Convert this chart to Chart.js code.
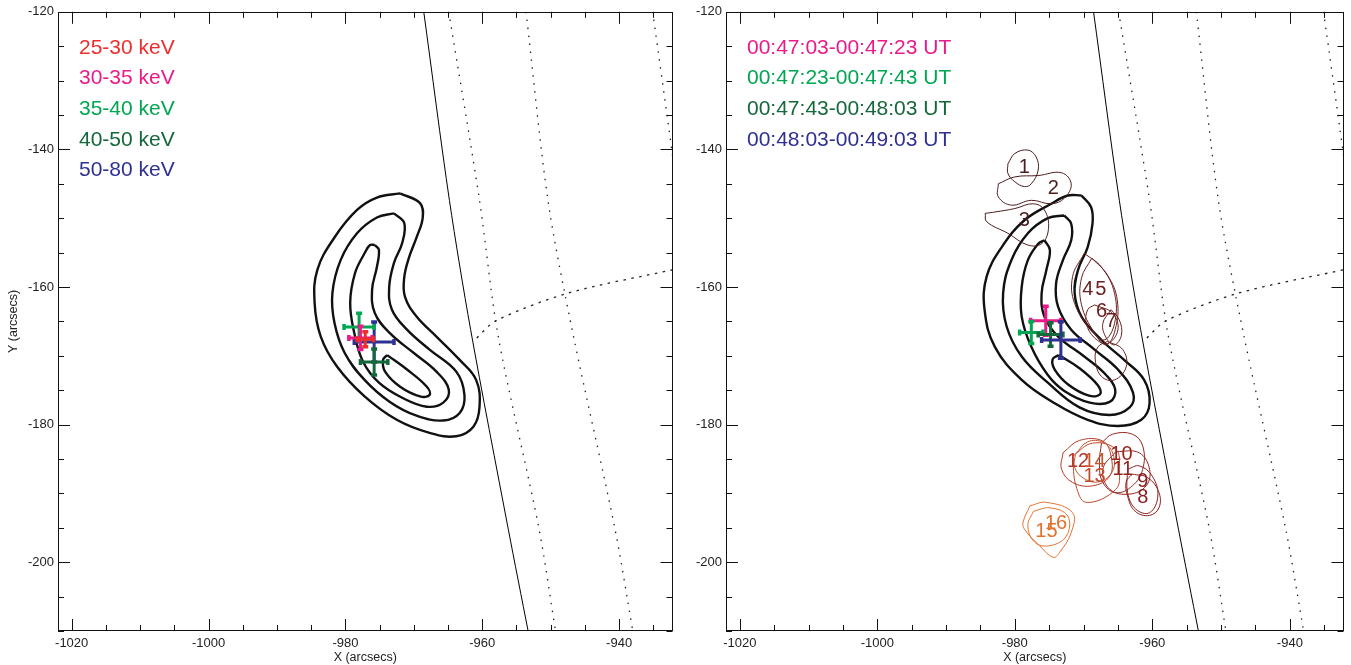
<!DOCTYPE html>
<html>
<head>
<meta charset="utf-8">
<script src="https://cdn.jsdelivr.net/npm/chart.js@4.4.1/dist/chart.umd.min.js"></script>
<style>
  html, body { margin: 0; padding: 0; background: #fff; }
  #wrap { position: relative; width: 1351px; height: 665px; }
  #leftBox { position: absolute; left: 0; top: 0; }
  #rightBox { position: absolute; left: 680px; top: 0; }
</style>
</head>
<body>
<div id="wrap">
  <div id="leftBox"><canvas id="leftChart" width="680" height="665"></canvas></div>
  <div id="rightBox"><canvas id="rightChart" width="671" height="665"></canvas></div>
</div>
<script>
// axes
const xTicks = [-1020, -1000, -980, -960, -940];
const yTicks = [-200, -180, -160, -140, -120];
const xMin = -1022, xMax = -932.2;
const yMin = -210, yMax = -120;

// solar limb (solid) and heliographic grid (dotted)
const limb = [[-968.55, -120], [-964.8, -147.4], [-961.7, -166.2], [-956.2, -195.2], [-953.3, -210]];
const lon1 = [[-964.9, -120], [-960.4, -147.4], [-957.7, -167.0], [-951.7, -195.2], [-949.3, -210]];
const lon2 = [[-953.6, -120], [-950.4, -147.4], [-946.7, -167.0], [-940.6, -195.2], [-938.0, -210]];
const lon3 = [[-935.1, -120], [-932.3, -140.1], [-931.0, -150]];
const lat1 = [[-960.8, -167.4], [-958.0, -164.9], [-947.5, -160.9], [-932.2, -157.5]];

// left panel contours (outer -> inner)
const leftC1 = [[-972.0,-146.4],[-969.1,-147.8],[-968.7,-149.9],[-969.6,-152.8],[-970.7,-155.7],[-971.4,-158.6],[-971.3,-161.4],[-969.6,-164.3],[-966.7,-167.2],[-963.3,-170.6],[-960.9,-173.5],[-960.4,-177.4],[-961.3,-180.3],[-963.8,-181.7],[-967.7,-181.2],[-972.5,-179.3],[-977.2,-175.9],[-981.2,-171.6],[-983.6,-167.2],[-984.5,-162.3],[-984.1,-157.5],[-981.6,-152.8],[-978.3,-148.8],[-975.4,-147.0]];
const leftC2 = [[-972.9,-149.3],[-971.4,-150.7],[-971.7,-153.6],[-972.9,-156.5],[-973.6,-160.0],[-973.2,-163.3],[-971.0,-166.2],[-967.7,-169.1],[-963.8,-172.3],[-962.6,-175.7],[-963.3,-178.3],[-965.7,-179.4],[-969.6,-178.7],[-973.5,-176.7],[-977.2,-173.5],[-980.1,-169.6],[-981.6,-165.2],[-981.9,-160.9],[-980.7,-156.1],[-978.3,-152.2],[-975.4,-149.9]];
const leftC3 = [[-975.7,-153.9],[-975.1,-154.6],[-975.4,-157.1],[-976.1,-160.4],[-975.7,-163.8],[-973.5,-166.7],[-970.0,-169.6],[-966.7,-172.3],[-964.9,-174.9],[-965.7,-176.8],[-968.1,-177.4],[-971.7,-176.1],[-975.1,-173.9],[-977.4,-170.9],[-978.7,-166.7],[-979.3,-162.3],[-978.6,-158.0],[-977.2,-155.1],[-976.4,-153.9]];
const leftC4 = [[-973.9,-169.9],[-971.0,-172.0],[-968.1,-174.5],[-967.7,-175.7],[-969.1,-175.9],[-972.0,-174.5],[-974.2,-172.3],[-974.5,-170.6]];

// right panel contours (outer -> inner)
const rightC1 = [[-970.3,-146.7],[-968.9,-148.4],[-968.7,-150.8],[-969.4,-154.2],[-970.8,-157.5],[-971.3,-160.9],[-970.3,-164.3],[-967.4,-167.7],[-964.1,-170.6],[-961.2,-173.5],[-960.4,-176.9],[-961.6,-179.3],[-965.0,-180.2],[-969.4,-179.3],[-974.2,-176.9],[-979.0,-173.5],[-982.9,-168.7],[-984.4,-163.3],[-984.1,-158.5],[-981.9,-154.2],[-978.6,-150.3],[-974.7,-147.9],[-972.3,-146.7]];
const rightC2 = [[-972.8,-149.6],[-971.8,-150.8],[-971.8,-153.2],[-973.0,-156.1],[-974.0,-159.5],[-973.7,-162.9],[-971.8,-166.2],[-968.4,-169.1],[-965.0,-172.0],[-962.8,-175.4],[-963.3,-177.5],[-966.2,-178.6],[-970.6,-177.5],[-975.2,-173.9],[-979.0,-170.1],[-981.2,-165.7],[-981.7,-160.9],[-980.5,-156.1],[-978.1,-152.2],[-975.2,-150.0]];
const rightC3 = [[-975.7,-153.2],[-974.9,-154.6],[-975.4,-157.5],[-976.1,-160.9],[-975.7,-164.3],[-973.7,-167.2],[-969.9,-170.1],[-967.0,-172.5],[-965.4,-174.9],[-966.2,-176.7],[-969.1,-176.8],[-972.8,-175.1],[-975.2,-172.8],[-977.6,-168.7],[-979.0,-164.3],[-979.0,-160.0],[-978.1,-156.1],[-976.6,-153.7]];
const rightC4 = [[-973.6,-169.9],[-970.6,-171.8],[-967.9,-174.3],[-967.6,-175.6],[-969.2,-175.8],[-972.2,-174.2],[-974.2,-172.0],[-974.5,-170.5]];

// left panel: centroids per energy band
const bandLabels = ['25-30 keV', '30-35 keV', '35-40 keV', '40-50 keV', '50-80 keV'];
const bandColors = ['#ee2d2d', '#ea1a8a', '#00a651', '#15683a', '#2e3192'];
const bandX = [-977.1, -977.8, -978.0, -975.8, -975.8];
const bandY = [-167.6, -167.4, -165.8, -170.9, -168.0];
const bandXErr = [1.2, 1.7, 2.2, 2.0, 2.9];
const bandYErr = [1.1, 1.7, 2.0, 1.9, 2.9];

// right panel: centroids per time interval
const timeLabels = ['00:47:03-00:47:23 UT', '00:47:23-00:47:43 UT', '00:47:43-00:48:03 UT', '00:48:03-00:49:03 UT'];
const timeColors = ['#ea1a8a', '#00a651', '#15683a', '#2e3192'];
const timeX = [-975.5, -977.6, -974.8, -973.3];
const timeY = [-164.9, -166.6, -166.9, -167.7];
const timeXErr = [2.2, 1.7, 1.8, 2.8];
const timeYErr = [2.1, 1.6, 1.7, 2.65];

// numbered sources (right panel)
const src1 = [[-981.0,-142.1],[-980.0,-140.6],[-978.1,-140.1],[-976.9,-141.1],[-976.6,-143.0],[-977.6,-145.0],[-978.6,-145.4],[-980.0,-144.7],[-981.0,-143.5]];
const src2 = [[-982.4,-145.0],[-980.0,-144.0],[-976.6,-143.8],[-973.2,-143.4],[-971.8,-145.0],[-972.8,-147.1],[-974.7,-147.9],[-977.6,-147.4],[-980.5,-148.1],[-982.4,-146.9]];
const src3 = [[-984.3,-149.3],[-984.1,-150.5],[-981.0,-152.2],[-978.1,-153.9],[-976.1,-153.7],[-975.1,-151.5],[-975.7,-148.8],[-977.3,-147.9],[-980.0,-148.6],[-982.9,-149.1]];
const src4 = [[-969.9,-155.1],[-967.4,-157.1],[-965.5,-160.9],[-965.5,-165.3],[-967.0,-167.7],[-968.9,-166.2],[-971.3,-162.4],[-971.6,-158.5]];
const src5 = [[-968.8,-155.8],[-966.5,-158.3],[-965.1,-161.9],[-965.4,-166.2],[-966.7,-168.4],[-968.4,-166.7],[-970.3,-162.6],[-970.3,-158.7]];
const src6 = [[-968.4,-162.6],[-965.8,-163.8],[-965.0,-166.2],[-966.5,-168.2],[-968.4,-167.4],[-969.6,-165.3],[-969.4,-163.3]];
const src7 = [[-966.0,-163.3],[-964.8,-164.8],[-964.5,-167.0],[-965.5,-168.4],[-966.7,-167.4],[-967.2,-165.3]];
const src7b = [[-966.5,-167.9],[-964.3,-169.1],[-963.8,-171.6],[-965.5,-173.5],[-967.4,-173.0],[-968.3,-170.6],[-967.9,-168.7]];
const src8 = [[-962.9,-187.2],[-960.7,-187.7],[-959.1,-189.7],[-959.0,-192.0],[-960.4,-193.2],[-962.5,-192.6],[-963.6,-190.4],[-963.8,-188.3]];
const src9 = [[-963.6,-186.5],[-961.9,-186.0],[-960.0,-187.5],[-959.2,-190.4],[-960.4,-192.8],[-962.4,-192.3],[-963.6,-189.9]];
const src10 = [[-967.4,-182.7],[-965.8,-181.4],[-962.9,-181.4],[-961.4,-183.1],[-961.4,-186.5],[-962.9,-188.9],[-965.3,-189.9],[-967.2,-188.4],[-967.7,-185.6]];
const src11 = [[-965.3,-183.9],[-961.9,-184.1],[-960.4,-186.5],[-960.9,-188.9],[-963.3,-190.1],[-966.2,-189.4],[-967.2,-186.5]];
const src12 = [[-973.0,-184.1],[-970.6,-182.3],[-967.2,-182.4],[-966.0,-184.6],[-966.2,-187.5],[-968.7,-188.9],[-971.6,-188.4],[-973.2,-186.5]];
const src13 = [[-971.6,-184.6],[-968.7,-182.7],[-965.3,-183.6],[-964.8,-186.5],[-965.3,-189.4],[-969.6,-191.3],[-971.1,-188.9]];
const src14 = [[-971.2,-184.3],[-969.4,-182.5],[-967.1,-182.6],[-965.7,-184.3],[-965.8,-186.8],[-967.7,-188.3],[-970.0,-187.8],[-971.3,-186.2]];
const src15 = [[-977.8,-191.8],[-975.4,-191.3],[-971.6,-192.8],[-971.8,-195.7],[-973.5,-198.6],[-974.4,-199.3],[-976.4,-197.6],[-978.6,-195.2],[-978.8,-194.2]];
const src16 = [[-977.3,-192.6],[-974.9,-192.1],[-972.3,-193.3],[-972.5,-196.2],[-974.9,-197.6],[-977.1,-197.1],[-978.1,-194.7]];

const srcShapes = [src1, src2, src3, src4, src5, src6, src7, src7b, src8, src9, src10, src11, src12, src13, src14, src15, src16];
const srcShapeColors = ['#4a1d1d', '#4a1d1d', '#4a1d1d', '#6a2020', '#6a2020', '#6a2020', '#6a2020', '#6a2020',
  '#8a1d1d', '#8a1d1d', '#962520', '#962520', '#b4382a', '#bf4a2c', '#c85530', '#e2722e', '#e2722e'];

const srcLabels = ['1', '2', '3', '4', '5', '6', '7', '8', '9', '10', '11', '12', '13', '14', '15', '16'];
const srcLabelX = [-978.6, -974.4, -978.6, -969.4, -967.5, -967.4, -966.0, -961.4, -961.4, -964.5, -964.3, -970.8, -968.4, -968.4, -975.4, -974.0];
const srcLabelY = [-142.6, -145.7, -150.3, -160.4, -160.4, -163.6, -165.0, -190.6, -188.2, -184.3, -186.5, -185.3, -187.5, -185.3, -195.5, -194.4];
const srcLabelColors = ['#4a1d1d', '#4a1d1d', '#4a1d1d', '#6a2020', '#6a2020', '#6a2020', '#6a2020', '#8a1d1d',
  '#8a1d1d', '#962520', '#962520', '#b4382a', '#bf4a2c', '#c85530', '#e2722e', '#e2722e'];

const FONT = "'Liberation Sans', Arial, Helvetica, sans-serif";

function toPts(arr) {
  return arr.map(p => ({ x: p[0], y: p[1] }));
}

function lineSet(arr, color, width, dash, tension, closed) {
  const src = closed ? arr.concat([arr[0]]) : arr;
  return {
    type: 'line',
    data: toPts(src),
    borderColor: color,
    borderWidth: width,
    borderDash: dash,
    pointRadius: 0,
    fill: false,
    tension: tension,
    showLine: true
  };
}

function crossSet(x, y, ex, ey, color) {
  return {
    type: 'line',
    data: [
      { x: x - ex, y: y }, { x: x + ex, y: y },
      { x: null, y: null },
      { x: x, y: y - ey }, { x: x, y: y + ey }
    ],
    borderColor: color,
    borderWidth: 3,
    pointStyle: 'line',
    pointRadius: 3,
    pointBorderColor: color,
    pointBorderWidth: 3.5,
    pointRotation: ctx => (ctx.dataIndex < 2 ? 90 : 0),
    spanGaps: false,
    tension: 0,
    showLine: true
  };
}

function mapLines() {
  return [
    lineSet(limb, '#000', 1, [], 0.3, false),
    lineSet(lon1, '#222', 1.3, [1.5, 6.5], 0.3, false),
    lineSet(lon2, '#222', 1.3, [1.5, 6.5], 0.3, false),
    lineSet(lon3, '#222', 1.3, [1.5, 6.5], 0.3, false),
    lineSet(lat1, '#222', 1.3, [2.5, 5.5], 0.3, false)
  ];
}

// first item in the list is drawn at the bottom
function stack(list) {
  list.forEach((d, i) => { d.order = list.length - i; });
  return list;
}

// inward ticks on all four sides plus the frame, IDL style
const frameTicks = {
  id: 'frameTicks',
  afterDraw(chart) {
    const { ctx, chartArea: a, scales: { x, y } } = chart;
    ctx.save();
    ctx.strokeStyle = '#111';
    ctx.lineWidth = 1;
    ctx.strokeRect(Math.round(a.left) + 0.5, Math.round(a.top) + 0.5,
      Math.round(a.right - a.left) - 1, Math.round(a.bottom - a.top) - 1);
    ctx.beginPath();
    for (let v = -1020; v <= xMax; v += 5) {
      const px = Math.round(x.getPixelForValue(v)) + 0.5;
      const len = v % 20 === 0 ? 12 : 6;
      ctx.moveTo(px, a.bottom); ctx.lineTo(px, a.bottom - len);
      ctx.moveTo(px, a.top); ctx.lineTo(px, a.top + len);
    }
    for (let v = yMin; v <= yMax; v += 5) {
      const py = Math.round(y.getPixelForValue(v)) + 0.5;
      const len = v % 20 === 0 ? 12 : 6;
      ctx.moveTo(a.left, py); ctx.lineTo(a.left + len, py);
      ctx.moveTo(a.right, py); ctx.lineTo(a.right - len, py);
    }
    ctx.stroke();
    ctx.restore();
  }
};

// coloured legend text in the upper left corner
function legendText(labels, colors) {
  return {
    id: 'legendText',
    afterDraw(chart) {
      const { ctx, chartArea: a } = chart;
      ctx.save();
      ctx.font = '21px ' + FONT;
      ctx.textAlign = 'left';
      ctx.textBaseline = 'middle';
      labels.forEach((t, i) => {
        ctx.fillStyle = colors[i];
        ctx.fillText(t, a.left + 21, a.top + 36 + i * 30.7);
      });
      ctx.restore();
    }
  };
}

const sourceLabels = {
  id: 'sourceLabels',
  afterDatasetsDraw(chart) {
    const { ctx, scales: { x, y } } = chart;
    ctx.save();
    ctx.font = '20px ' + FONT;
    ctx.textAlign = 'center';
    ctx.textBaseline = 'middle';
    srcLabels.forEach((t, i) => {
      ctx.fillStyle = srcLabelColors[i];
      ctx.fillText(t, x.getPixelForValue(srcLabelX[i]), y.getPixelForValue(srcLabelY[i]));
    });
    ctx.restore();
  }
};

function makeOptions(yWidth, padRight, showYTitle) {
  return {
    responsive: false,
    animation: false,
    events: [],
    layout: { padding: { top: 11, right: padRight, left: 0, bottom: 0 } },
    plugins: { legend: { display: false }, tooltip: { enabled: false } },
    scales: {
      x: {
        type: 'linear',
        min: xMin,
        max: xMax,
        afterBuildTicks: s => { s.ticks = xTicks.map(v => ({ value: v })); },
        afterFit: s => { s.height = 34; },
        grid: { display: false, drawTicks: false },
        border: { display: false },
        ticks: { color: '#222', padding: 5, maxRotation: 0, font: { family: FONT, size: 13 }, callback: v => String(v) },
        title: { display: true, text: 'X (arcsecs)', color: '#222', font: { family: FONT, size: 12.5 }, padding: { top: 0, bottom: 0 } }
      },
      y: {
        type: 'linear',
        min: yMin,
        max: yMax,
        afterBuildTicks: s => { s.ticks = yTicks.map(v => ({ value: v })); },
        afterFit: s => { s.width = yWidth; },
        grid: { display: false, drawTicks: false },
        border: { display: false },
        ticks: { color: '#222', padding: 4, font: { family: FONT, size: 13 }, callback: v => String(v) },
        title: { display: showYTitle, text: 'Y (arcsecs)', color: '#222', font: { family: FONT, size: 12.5 }, padding: { top: 6, bottom: 0 } }
      }
    }
  };
}

// left panel: energy bands
const leftSets = mapLines().concat([
  lineSet(leftC1, '#111', 2.4, [], 0.4, true),
  lineSet(leftC2, '#111', 2.4, [], 0.4, true),
  lineSet(leftC3, '#111', 2.4, [], 0.4, true),
  lineSet(leftC4, '#111', 2.4, [], 0.4, true)
]);
[4, 3, 2, 1, 0].forEach(i => {
  leftSets.push(crossSet(bandX[i], bandY[i], bandXErr[i], bandYErr[i], bandColors[i]));
});

new Chart(document.getElementById('leftChart'), {
  type: 'scatter',
  data: { datasets: stack(leftSets) },
  options: makeOptions(58, 2, true),
  plugins: [frameTicks, legendText(bandLabels, bandColors)]
});

// right panel: time intervals and numbered sources
const rightSets = mapLines().concat([
  lineSet(rightC1, '#111', 2.4, [], 0.4, true),
  lineSet(rightC2, '#111', 2.4, [], 0.4, true),
  lineSet(rightC3, '#111', 2.4, [], 0.4, true),
  lineSet(rightC4, '#111', 2.4, [], 0.4, true)
]);
srcShapes.forEach((s, i) => {
  rightSets.push(lineSet(s, srcShapeColors[i], 1, [], 0.4, true));
});
[0, 1, 2, 3].forEach(i => {
  rightSets.push(crossSet(timeX[i], timeY[i], timeXErr[i], timeYErr[i], timeColors[i]));
});

new Chart(document.getElementById('rightChart'), {
  type: 'scatter',
  data: { datasets: stack(rightSets) },
  options: makeOptions(46, 5, false),
  plugins: [frameTicks, sourceLabels, legendText(timeLabels, timeColors)]
});
</script>
</body>
</html>
